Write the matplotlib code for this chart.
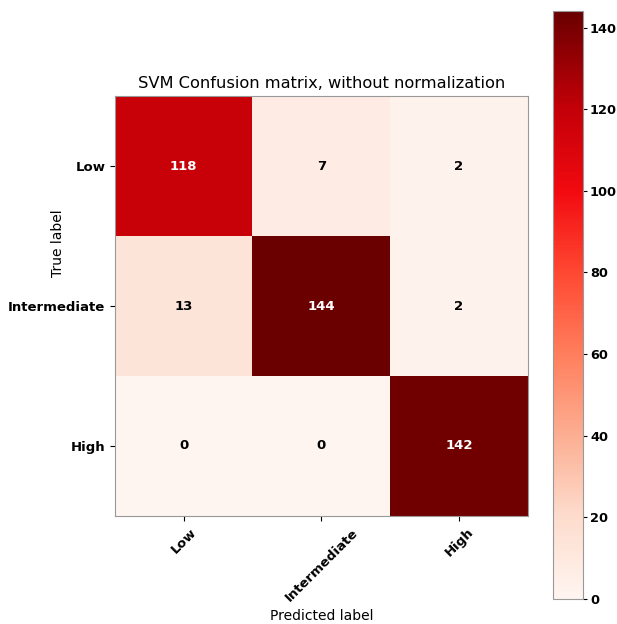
import numpy as np
import matplotlib
matplotlib.use("Agg")
import matplotlib.pyplot as plt
from matplotlib.colors import LinearSegmentedColormap

classes = ["Low", "Intermediate", "High"]
cm = np.array([[118, 7, 2],
               [13, 144, 2],
               [0, 0, 142]])
cbar_ticks = [0, 20, 40, 60, 80, 100, 120, 140]

# the reference's reds look more saturated than the stock Reds map
reds = LinearSegmentedColormap.from_list("reds_sat", [
    (0.0, "#fff5f0"),
    (0.139, "#fddccd"),
    (0.278, "#fcae92"),
    (0.417, "#ff7e5c"),
    (0.556, "#ff4832"),
    (0.694, "#f20a10"),
    (0.833, "#c40008"),
    (1.0, "#6a0000"),
])

fig = plt.figure(figsize=(6.17, 6.24), dpi=100)
ax = fig.add_axes([0.1864, 0.1731, 0.669, 0.673])
cax = fig.add_axes([0.8963, 0.040, 0.0486, 0.942])

im = ax.imshow(cm, interpolation="nearest", cmap=reds, vmin=0, vmax=cm.max(), aspect="auto")
ax.set_title("SVM Confusion matrix, without normalization", fontsize=11.7)
cb = fig.colorbar(im, cax=cax, ticks=cbar_ticks)
cb.outline.set_edgecolor("#999999")
cb.ax.tick_params(pad=2, length=3)
for t in cb.ax.get_yticklabels():
    t.set_fontweight("bold")
    t.set_fontsize(9.3)

ticks = np.arange(len(classes))
ax.set_xticks(ticks)
ax.set_xticklabels(classes, rotation=45, fontweight="bold", fontsize=9.5)
ax.set_yticks(ticks)
ax.set_yticklabels(classes, fontweight="bold", fontsize=9.5)
for s in ax.spines.values():
    s.set_edgecolor("#999999")

thresh = cm.max() / 2.
for i in range(cm.shape[0]):
    for j in range(cm.shape[1]):
        ax.text(j, i, format(cm[i, j], "d"), ha="center", va="center",
                fontweight="bold", fontsize=9.5,
                color="white" if cm[i, j] > thresh else "black")

ax.set_ylabel("True label", fontsize=10)
ax.yaxis.set_label_coords(-0.12, 0.65)
ax.set_xlabel("Predicted label", fontsize=10)

fig.savefig("out.png", dpi=100)
